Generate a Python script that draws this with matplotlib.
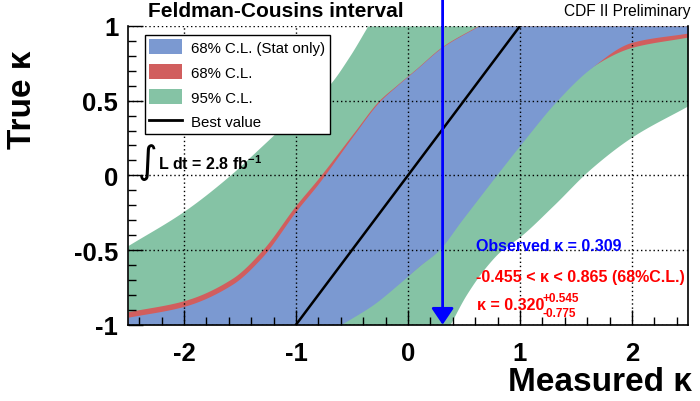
import numpy as np
import matplotlib
matplotlib.use('Agg')
import matplotlib.pyplot as plt
from matplotlib.patches import Patch
from matplotlib.lines import Line2D

plt.rcParams['font.family'] = ['Liberation Sans', 'DejaVu Sans']
plt.rcParams['mathtext.fontset'] = 'custom'
plt.rcParams['mathtext.rm'] = 'Liberation Sans'
plt.rcParams['mathtext.bf'] = 'Liberation Sans:bold'
plt.rcParams['axes.unicode_minus'] = False

# band edges: (measured kappa, true kappa)
green_up_meas = [-2.5, -2.0, -1.59, -1.3, -1.0, -0.71, -0.52, -0.36]
green_up_true = [-0.47, -0.24, 0.0, 0.2, 0.41, 0.6, 0.8, 1.0]
green_lo_meas = [0.375, 0.52, 0.71, 0.836, 1.0, 1.3, 1.625, 2.0, 2.5]
green_lo_true = [-1.0, -0.8, -0.6, -0.5, -0.41, -0.2, 0.04, 0.257, 0.466]

red_up_meas = [-2.5, -2.0, -1.57, -1.3, -1.0, -0.8, -0.48, -0.26, -0.1, 0.07, 0.31, 0.62]
red_up_true = [-0.913, -0.839, -0.69, -0.5, -0.2, -0.02, 0.29, 0.5, 0.605, 0.712, 0.865, 1.0]
red_lo_meas = [-0.63, -0.33, -0.07, 0.1, 0.265, 0.48, 0.82, 1.0, 1.3, 1.57, 2.0, 2.5]
red_lo_true = [-1.0, -0.865, -0.712, -0.605, -0.5, -0.29, 0.04, 0.22, 0.5, 0.69, 0.857, 0.926]

blue_up_meas = [-2.5, -2.0, -1.57, -1.3, -1.0, -0.8, -0.48, -0.26, -0.1, 0.07, 0.31, 0.63]
blue_up_true = [-0.95, -0.877, -0.73, -0.545, -0.24, -0.055, 0.275, 0.49, 0.6, 0.708, 0.86, 1.0]
blue_lo_meas = [-0.60, -0.31, -0.06, 0.105, 0.27, 0.485, 0.83, 1.02, 1.33, 1.62, 2.0, 2.5]
blue_lo_true = [-1.0, -0.865, -0.712, -0.605, -0.505, -0.295, 0.04, 0.22, 0.5, 0.71, 0.891, 0.953]

best_meas = [-1.0, 1.0]
best_true = [-1.0, 1.0]

observed = 0.309
x_ticks = [-2, -1, 0, 1, 2]
y_ticks = [-1, -0.5, 0, 0.5, 1]
y_ticklabels = ['-1', '-0.5', '0', '0.5', '1']

c_blue = '#7b99d1'
c_red = '#d15e5e'
c_green = '#85c3a5'


def smooth_edge(xp, yp, xn):
    """Monotone cubic (pchip) through the read points, held flat outside them."""
    xp = np.asarray(xp, float)
    yp = np.asarray(yp, float)
    h = np.diff(xp)
    d = np.diff(yp) / h
    s = np.zeros_like(yp)
    s[0], s[-1] = d[0], d[-1]
    for k in range(1, len(xp) - 1):
        if d[k - 1] * d[k] > 0:
            w1 = 2 * h[k] + h[k - 1]
            w2 = h[k] + 2 * h[k - 1]
            s[k] = (w1 + w2) / (w1 / d[k - 1] + w2 / d[k])
    out = np.interp(xn, xp, yp)
    idx = np.clip(np.searchsorted(xp, xn) - 1, 0, len(xp) - 2)
    inside = (xn >= xp[0]) & (xn <= xp[-1])
    i = idx[inside]
    t = (xn[inside] - xp[i]) / h[i]
    h00 = 2 * t**3 - 3 * t**2 + 1
    h10 = t**3 - 2 * t**2 + t
    h01 = -2 * t**3 + 3 * t**2
    h11 = t**3 - t**2
    out[inside] = h00 * yp[i] + h10 * h[i] * s[i] + h01 * yp[i + 1] + h11 * h[i] * s[i + 1]
    return out


fig = plt.figure(figsize=(7, 4.02), dpi=100)
ax = fig.add_axes([128 / 700, 1 - 325.7 / 402, 560 / 700, 298.7 / 402])

m = np.linspace(-2.5, 2.5, 2001)
ax.fill_between(m, smooth_edge(green_lo_meas, green_lo_true, m), smooth_edge(green_up_meas, green_up_true, m),
                color=c_green, lw=0, zorder=1)
ax.fill_between(m, smooth_edge(red_lo_meas, red_lo_true, m), smooth_edge(red_up_meas, red_up_true, m),
                color=c_red, lw=0, zorder=1.1)
ax.fill_between(m, smooth_edge(blue_lo_meas, blue_lo_true, m), smooth_edge(blue_up_meas, blue_up_true, m),
                color=c_blue, lw=0, zorder=1.2)
ax.plot(best_meas, best_true, color='k', lw=1.8, zorder=3)

ax.annotate('', xy=(observed, -1), xytext=(observed, 1.185), annotation_clip=False,
            arrowprops=dict(arrowstyle='-|>,head_length=0.4,head_width=0.27', color='blue', lw=2,
                            mutation_scale=25, shrinkA=0, shrinkB=0), zorder=4)

ax.set_xlim(-2.5, 2.5)
ax.set_ylim(-1, 1)
ax.set_xticks(x_ticks)
ax.set_xticklabels([str(t) for t in x_ticks])
ax.set_yticks(y_ticks)
ax.set_yticklabels(y_ticklabels)
ax.set_xticks(np.arange(-2.4, 2.5, 0.2), minor=True)
ax.set_yticks(np.arange(-0.9, 1.0, 0.1), minor=True)
ax.tick_params(which='both', direction='in', top=False, right=False, width=1)
ax.tick_params(which='major', length=11, labelsize=18.5)
ax.tick_params(which='minor', length=6)
ax.tick_params(axis='x', which='major', pad=12)
ax.tick_params(axis='y', which='major', pad=7)
for lab in ax.get_xticklabels() + ax.get_yticklabels():
    lab.set_fontweight('bold')
ax.set_axisbelow(False)
ax.grid(True, which='major', color='k', ls=(0, (1, 2)), lw=1)
ax.spines['top'].set_visible(False)
for s in ['left', 'right', 'bottom']:
    ax.spines[s].set_linewidth(1.2)

handles = [Patch(facecolor=c_blue, edgecolor='none', label='68% C.L. (Stat only)'),
           Patch(facecolor=c_red, edgecolor='none', label='68% C.L.'),
           Patch(facecolor=c_green, edgecolor='none', label='95% C.L.'),
           Line2D([], [], color='k', lw=2, label='Best value')]
leg = ax.legend(handles=handles, loc='upper left', bbox_to_anchor=(0.03, 0.97), fontsize=10.8,
                frameon=True, fancybox=False, edgecolor='k', framealpha=1, handlelength=2.2,
                handleheight=1.15, labelspacing=0.62, borderpad=0.3, handletextpad=0.6,
                borderaxespad=0)
leg.get_frame().set_linewidth(1.0)

ax.text(0.0348, 0.545, '\u222b', transform=ax.transAxes, ha='center', va='center',
        fontsize=27, family='DejaVu Sans')
ax.text(0.0536, 0.521, r'L dt = 2.8 fb$^{\mathbf{-1}}$', transform=ax.transAxes,
        fontsize=11.5, fontweight='bold', va='baseline')
ax.text(0.621, 0.251, 'Observed \u03ba = 0.309', transform=ax.transAxes, color='blue',
        fontsize=11.5, fontweight='bold', va='baseline')
ax.text(0.621, 0.147, '-0.455 < \u03ba < 0.865 (68%C.L.)', transform=ax.transAxes, color='red',
        fontsize=11.5, fontweight='bold', va='baseline')
ax.text(0.623, 0.0526, '\u03ba = 0.320', transform=ax.transAxes, color='red',
        fontsize=11.5, fontweight='bold', va='baseline')
ax.text(0.741, 0.080, '+0.545', transform=ax.transAxes, color='red',
        fontsize=8.5, fontweight='bold', va='baseline')
ax.text(0.741, 0.030, '-0.775', transform=ax.transAxes, color='red',
        fontsize=8.5, fontweight='bold', va='baseline')

fig.text(148 / 700, 1 - 17.3 / 402, 'Feldman-Cousins interval', fontsize=15, fontweight='bold',
         ha='left', va='baseline')
fig.text(690 / 700, 1 - 15.7 / 402, 'CDF II Preliminary', fontsize=11.2, ha='right', va='baseline')
fig.text(22.5 / 700, 1 - 100 / 402, 'True \u03ba', fontsize=24, fontweight='bold', rotation=90,
         ha='center', va='center')
fig.text(692 / 700, 11 / 402, 'Measured \u03ba', fontsize=24, fontweight='bold', ha='right',
         va='baseline')

fig.savefig('out.png', dpi=100)
